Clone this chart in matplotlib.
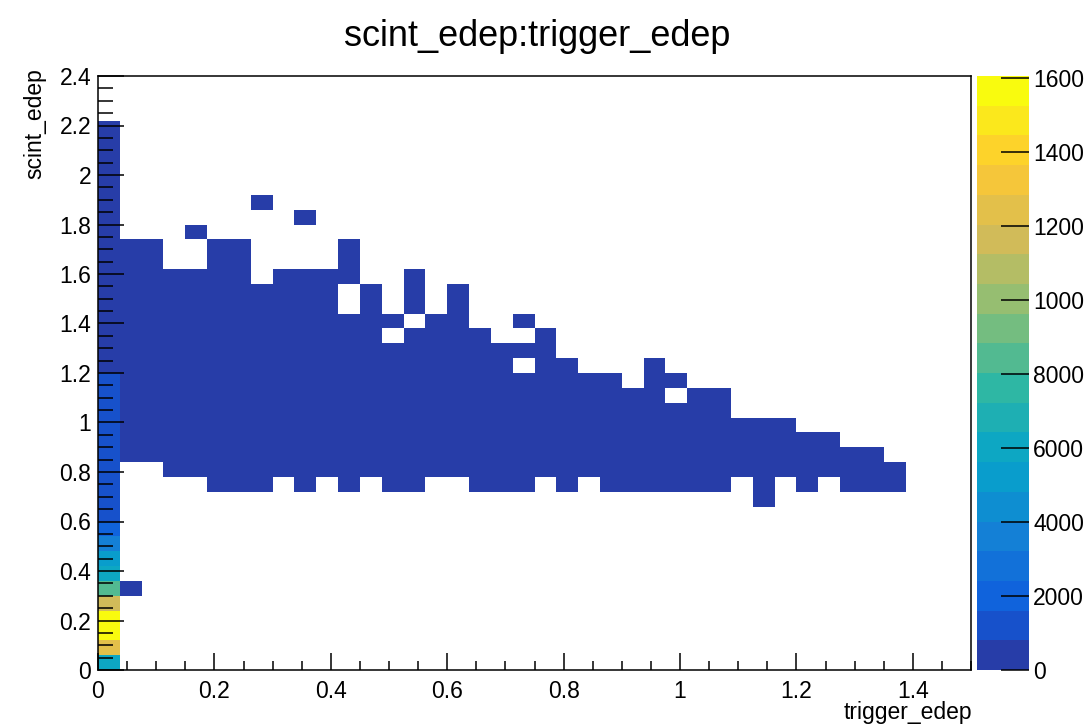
import numpy as np
import matplotlib
matplotlib.use("Agg")
import matplotlib.pyplot as plt
from matplotlib.colors import ListedColormap, BoundaryNorm
from matplotlib.ticker import MultipleLocator, FormatStrFormatter

plt.rcParams['font.family'] = ['Liberation Sans', 'DejaVu Sans']

# ---------------- data ----------------
title = "scint_edep:trigger_edep"
x_title = "trigger_edep"
y_title = "scint_edep"

n_xbins, x_min, x_max = 40, 0.0, 1.5
n_ybins, y_min, y_max = 40, 0.0, 2.4
z_max = 16050

# counts in the first trigger_edep bin (x bin 0), for scint_edep bins 0..36
col0_counts = [6000, 12100, 16050, 15300, 11600, 8400, 6000, 5100, 3500, 2100,
               1300, 1250, 1200, 1200, 1150, 1100, 1100, 1000, 950, 900,
               600, 550, 500, 450, 400, 350, 300, 250, 220, 200,
               180, 150, 120, 100, 80, 60, 40]

# main band: for x bins 1..36 the lowest and highest filled y bin
band_cols   = list(range(1, 37))
band_bottom = [14, 14, 13, 13, 12, 12, 12, 13, 12, 13, 12, 13, 12, 12, 13, 13, 12, 12,
               12, 13, 12, 13, 12, 12, 12, 12, 12, 12, 13, 11, 13, 12, 13, 12, 12, 12]
band_top    = [28, 28, 26, 26, 28, 28, 25, 26, 26, 26, 28, 25, 23, 26, 23, 25, 22, 21,
               23, 22, 20, 19, 19, 18, 20, 19, 18, 18, 16, 16, 16, 15, 15, 14, 14, 13]
band_count  = 300          # every band cell is in the lowest colour level (< 800)

# empty cells inside the band (x bin, y bin)
band_holes = [(11, 24), (11, 25), (13, 22), (14, 23), (19, 22), (19, 20), (26, 18)]
# isolated filled cells (x bin, y bin, count)
lone_cells = [(1, 5, 200), (4, 29, 50), (7, 31, 50), (9, 30, 50)]

cbar_ticks  = [0, 2000, 4000, 6000, 8000, 10000, 12000, 14000, 16000]
cbar_labels = ["0", "2000", "4000", "6000", "8000", "1000", "1200", "1400", "1600"]

# ---------------- build histogram ----------------
counts = np.zeros((n_ybins, n_xbins))
for j, c in enumerate(col0_counts):
    counts[j, 0] = c
for i, b, t in zip(band_cols, band_bottom, band_top):
    counts[b:t + 1, i] = band_count
for i, j in band_holes:
    counts[j, i] = 0
for i, j, c in lone_cells:
    counts[j, i] = c

x_edges = np.linspace(x_min, x_max, n_xbins + 1)
y_edges = np.linspace(y_min, y_max, n_ybins + 1)

# ROOT kBird palette, 20 contour levels
stops = [0.0, 0.125, 0.25, 0.375, 0.5, 0.625, 0.75, 0.875, 1.0]
red   = [0.2082, 0.0592, 0.0780, 0.0232, 0.1802, 0.5301, 0.8186, 0.9956, 0.9764]
green = [0.1664, 0.3599, 0.5041, 0.6419, 0.7178, 0.7492, 0.7328, 0.7862, 0.9832]
blue  = [0.5293, 0.8684, 0.8385, 0.7914, 0.6425, 0.4662, 0.3499, 0.1968, 0.0539]
ncont = 20
cols = []
for k in range(ncont):
    idx = int((k + 0.99) * 255 / ncont)
    p = min(idx, 254) / 254.0
    cols.append((np.interp(p, stops, red), np.interp(p, stops, green), np.interp(p, stops, blue)))
cmap = ListedColormap(cols)
levels = np.linspace(0, z_max, ncont + 1)
norm = BoundaryNorm(levels, ncont)

# ---------------- figure ----------------
W, H = 1087, 727
fig = plt.figure(figsize=(W / 100, H / 100), dpi=100)
ax = fig.add_axes([98 / W, 57 / H, 873 / W, 594 / H])
cax = fig.add_axes([977 / W, 57 / H, 52 / W, 594 / H])

data = np.ma.masked_where(counts <= 0, counts)
mesh = ax.pcolormesh(x_edges, y_edges, data, cmap=cmap, norm=norm)
ax.set_xlim(x_min, x_max)
ax.set_ylim(y_min, y_max)

ax.xaxis.set_major_locator(MultipleLocator(0.2))
ax.xaxis.set_minor_locator(MultipleLocator(0.05))
ax.yaxis.set_major_locator(MultipleLocator(0.2))
ax.yaxis.set_minor_locator(MultipleLocator(0.05))
ax.xaxis.set_major_formatter(FormatStrFormatter('%g'))
ax.yaxis.set_major_formatter(FormatStrFormatter('%g'))
ax.tick_params(axis='x', which='major', direction='in', length=12, width=1.1,
               labelsize=16.5, pad=7, top=False)
ax.tick_params(axis='x', which='minor', direction='in', length=6.5, width=1.1, top=False)
ax.tick_params(axis='y', which='major', direction='in', length=19, width=1.1,
               labelsize=16.5, pad=5, right=False)
ax.tick_params(axis='y', which='minor', direction='in', length=11, width=1.1, right=False)
for s in ax.spines.values():
    s.set_linewidth(1.1)

cb = fig.colorbar(mesh, cax=cax, ticks=cbar_ticks)
cb.outline.set_visible(False)
cb.set_ticklabels(cbar_labels)
cax.tick_params(direction='in', length=20, width=1.1, labelsize=16.5, pad=3)
cax.minorticks_off()

fig.text(537 / W, 1 - 36 / H, title, ha='center', va='center', fontsize=26)
fig.text(972 / W, 1 - 712 / H, x_title, ha='right', va='center', fontsize=16.5)
fig.text(35 / W, 1 - 68 / H, y_title, ha='center', va='top', rotation=90, fontsize=16.5)

fig.savefig("out.png", dpi=100)
